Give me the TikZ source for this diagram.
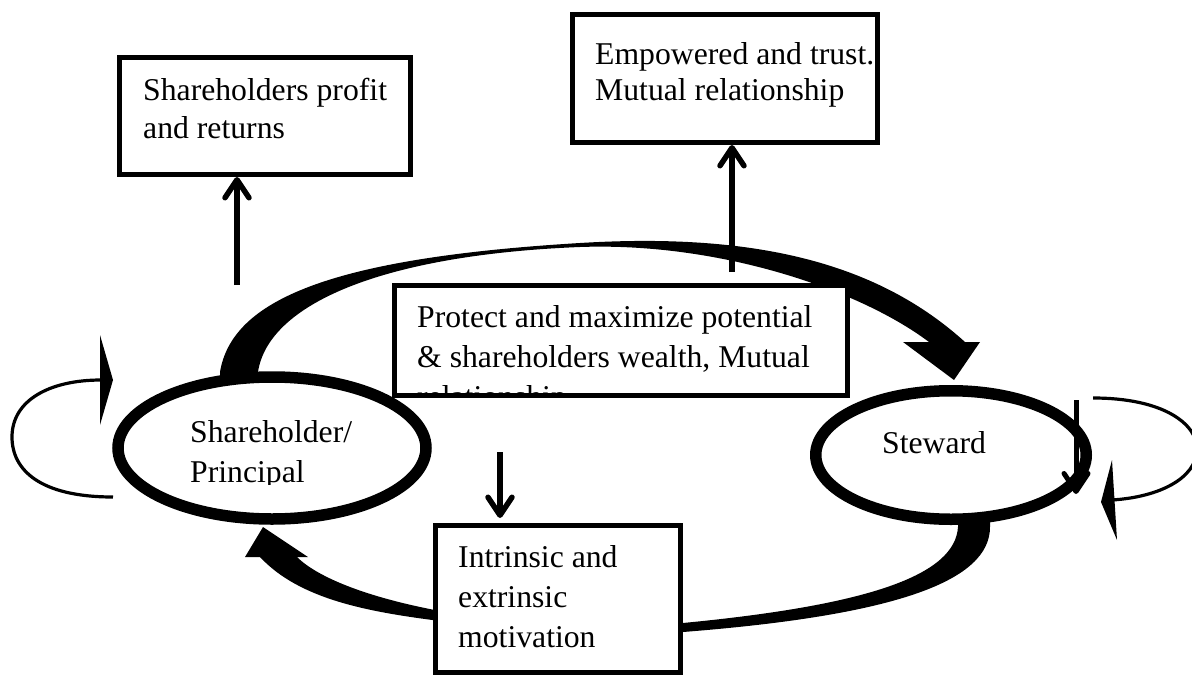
\documentclass[tikz,border=0pt]{standalone}
\usepackage{fontspec}
\setmainfont{Liberation Serif}
\usetikzlibrary{arrows.meta,shapes.geometric}
\tikzset{
  boxst/.style={draw=black, line width=5pt, fill=white, rectangle, inner sep=0pt, anchor=north west},
  ellst/.style={draw=black, line width=11.5pt, fill=white, ellipse, inner sep=0pt},
  txt/.style={anchor=north west, inner sep=0pt, align=left, font=\fontsize{31.7}{38}\selectfont},
  thinarrow/.style={line width=5.5pt, -{Straight Barb[length=18pt,width=24pt,round]}},
  loopline/.style={line width=3.2pt},
  band/.style={fill=black, draw=none},
}
\begin{document}
\begin{tikzpicture}[x=1pt,y=-1pt]
\useasboundingbox[fill=white] (0,0) rectangle (1192,675);
% top curved band (principal -> steward)
\fill[band] (220,385) -- (220,372) .. controls (232,300) and (330,258) .. (580,243)
  .. controls (760,232) and (880,265) .. (965,342)
  -- (929,342) .. controls (860,290) and (720,242) .. (580,247)
  .. controls (380,255) and (268,305) .. (258,372) -- (258,385) -- cycle;
\fill[band] (903,342) -- (980,342) -- (954,380) -- cycle;
% bottom curved band (steward -> principal)
\fill[band] (958,515) -- (990,515) -- (990,527) .. controls (990,580) and (900,615) .. (683,632)
  -- (683,623) .. controls (870,605) and (955,575) .. (958,527) -- cycle;
\fill[band] (440,611) .. controls (360,596) and (315,575) .. (297,557)
  -- (260,557) .. controls (300,600) and (370,612) .. (440,621) -- cycle;
\fill[band] (245,557) -- (308,557) -- (263,527) -- cycle;
% ellipses
\node[ellst, minimum width=308pt, minimum height=142pt] (sh) at (272,448) {};
\node[ellst, minimum width=270.5pt, minimum height=128.5pt] (st) at (951,455) {};
\begin{scope}
\clip (150,380) rectangle (420,484);
\node[txt, font=\fontsize{31.7}{40}\selectfont] (shtext) at (190,418) {\rule{0pt}{24pt}Shareholder/\\Principal};
\end{scope}
\node[txt] (sttext) at (882,429) {\rule{0pt}{24pt}Steward};
% self loops
\coordinate (ll1) at (113,497);
\coordinate (ll2) at (101,380);
\draw[loopline] (ll1) .. controls (40,497) and (12,470) .. (12,437) .. controls (12,400) and (50,380) .. (ll2);
\fill (100,335) -- (113,380) -- (100,425) -- cycle;
\coordinate (rl1) at (1093,398);
\coordinate (rl2) at (1112,500);
\draw[loopline] (rl1) .. controls (1165,398) and (1198,425) .. (1197,450) .. controls (1196,478) and (1160,497) .. (rl2);
\fill (1112,460) -- (1101,502) -- (1117,540) -- cycle;
% boxes
\node[boxst, minimum width=291pt, minimum height=117pt] (b1) at (117,55) {};
\node[boxst, minimum width=305pt, minimum height=128pt] (b2) at (570,12) {};
\node[boxst, minimum width=453pt, minimum height=110pt] (b3) at (392,283) {};
\node[boxst, minimum width=245pt, minimum height=147pt] (b4) at (433,523) {};
\node[txt] (t1) at (143,76) {\rule{0pt}{24pt}Shareholders profit\\and returns};
\node[txt, font=\fontsize{31.7}{36}\selectfont] (t2) at (595,40) {\rule{0pt}{24pt}Empowered and trust.\\Mutual relationship};
\begin{scope}
\clip (394.5,285.5) rectangle (847.5,395.5);
\node[txt, font=\fontsize{31.7}{40}\selectfont] (t3) at (417,303) {\rule{0pt}{24pt}Protect and maximize potential\\\& shareholders wealth, Mutual\\relationship};
\end{scope}
\node[txt, font=\fontsize{31.7}{40}\selectfont] (t4) at (458,543) {\rule{0pt}{24pt}Intrinsic and\\extrinsic\\motivation};
% straight arrows
\coordinate (a1) at (237,285);
\draw[thinarrow] (a1) -- (a1 |- b1.south);
\coordinate (a2) at (732,272);
\draw[thinarrow] (a2) -- (a2 |- b2.south);
\coordinate (a3) at (500,452);
\draw[thinarrow] (a3) -- ([yshift=5pt]a3 |- b4.north);
\coordinate (a4) at (1076,400);
\coordinate (a4e) at (1076,494);
\draw[thinarrow, line width=5pt] (a4) -- (a4e);
\end{tikzpicture}
\end{document}
